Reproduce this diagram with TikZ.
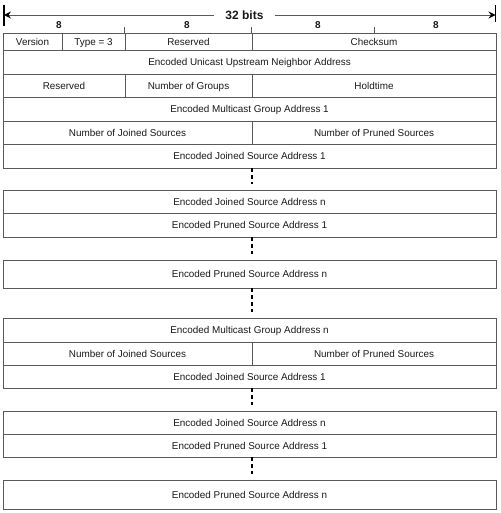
\documentclass[tikz,border=0pt]{standalone}
\usepackage{fontspec}
\setmainfont{Liberation Sans}
\usetikzlibrary{arrows.meta,calc}
\definecolor{boxgray}{gray}{0.35}
\definecolor{txt}{gray}{0.1}
\newcommand\fld[6]{\node[cell, minimum width={(#4-#2)*1pt}, minimum height={(#5-#3)*1pt}] (#1) at ({(#2+#4)/2},{(#3+#5)/2}) {#6};}
\begin{document}
\begin{tikzpicture}[x=1pt,y=-1pt,
  cell/.style={draw=boxgray, line width=0.8pt, inner sep=0pt, font=\fontsize{9.9}{11}\selectfont, text=txt, anchor=center, text height=7.2pt, text depth=0pt},
  gapdash/.style={line width=1.6pt, dash pattern=on 4pt off 3pt, draw=black},
  hdr/.style={font=\bfseries\fontsize{10}{12}\selectfont, text=txt, inner sep=0pt},
  tick/.style={draw=boxgray, line width=0.8pt},
  bar/.style={draw=black, line width=1.4pt},
  span/.style={draw=boxgray, line width=0.8pt, -{Stealth[length=7pt,width=7pt,inset=2.5pt,black]}}
  ]
\useasboundingbox (0,0) rectangle (500,513);

% block A
\fld{ver}{3}{33}{62}{50}{Version}
\fld{type}{62}{33}{125}{50}{Type = 3}
\fld{res1}{125}{33}{252}{50}{Reserved}
\fld{csum}{252}{33}{496}{50}{Checksum}
\fld{unicast}{3}{50}{496}{74}{Encoded Unicast Upstream Neighbor Address}
\fld{res2}{3}{74}{125}{97}{Reserved}
\fld{ngrp}{125}{74}{252}{97}{Number of Groups}
\fld{hold}{252}{74}{496}{97}{Holdtime}
\fld{mg1}{3}{97}{496}{121}{Encoded Multicast Group Address 1}
\fld{nj1}{3}{121}{252}{144}{Number of Joined Sources}
\fld{np1}{252}{121}{496}{144}{Number of Pruned Sources}
\fld{js11}{3}{144}{496}{168}{Encoded Joined Source Address 1}
% block B
\fld{js1n}{3}{190}{496}{213}{Encoded Joined Source Address n}
\fld{ps11}{3}{213}{496}{237}{Encoded Pruned Source Address 1}
% block C
\fld{ps1n}{3}{260}{496}{288}{Encoded Pruned Source Address n}
% block D
\fld{mgn}{3}{318}{496}{342}{Encoded Multicast Group Address n}
\fld{nj2}{3}{342}{252}{365}{Number of Joined Sources}
\fld{np2}{252}{342}{496}{365}{Number of Pruned Sources}
\fld{js21}{3}{365}{496}{388}{Encoded Joined Source Address 1}
% block E
\fld{js2n}{3}{411}{496}{434}{Encoded Joined Source Address n}
\fld{ps21}{3}{434}{496}{457}{Encoded Pruned Source Address 1}
% block F
\fld{ps2n}{3}{480}{496}{509}{Encoded Pruned Source Address n}

% dashed continuation marks
\coordinate (mid) at (252,0);
\draw[gapdash] (js11.south -| mid) -- ($(js1n.north -| mid)+(0,-6)$);
\draw[gapdash] (ps11.south -| mid) -- ($(ps1n.north -| mid)+(0,-6)$);
\draw[gapdash] (ps1n.south -| mid) -- ($(mgn.north -| mid)+(0,-6)$);
\draw[gapdash] (js21.south -| mid) -- ($(js2n.north -| mid)+(0,-6)$);
\draw[gapdash] (ps21.south -| mid) -- ($(ps2n.north -| mid)+(0,-6)$);

% header
\node[hdr] (b1) at (59,25.5) {8};
\node[hdr] (b2) at (187,25.5) {8};
\node[hdr] (b3) at (318,25.5) {8};
\node[hdr] (b4) at (436,25.5) {8};
\draw[tick] (res1.north west) -- ++(0,-6);
\draw[tick] (csum.north west) -- ++(0,-6);
\coordinate (q3) at (374,33);
\draw[tick] (q3) -- ++(0,-6);

\node[font=\bfseries\fontsize{12}{14}\selectfont, text=txt, inner xsep=11pt, inner ysep=0pt] (title) at (244.5,15) {32 bits};
\coordinate (lend) at (4,15);
\coordinate (rend) at (495.5,15);
\draw[span] (title.west) -- (lend);
\draw[span] (title.east) -- (rend);
\draw[bar] (4,5) -- (4,26);
\draw[bar] (495.5,5) -- (495.5,22);
\end{tikzpicture}
\end{document}
